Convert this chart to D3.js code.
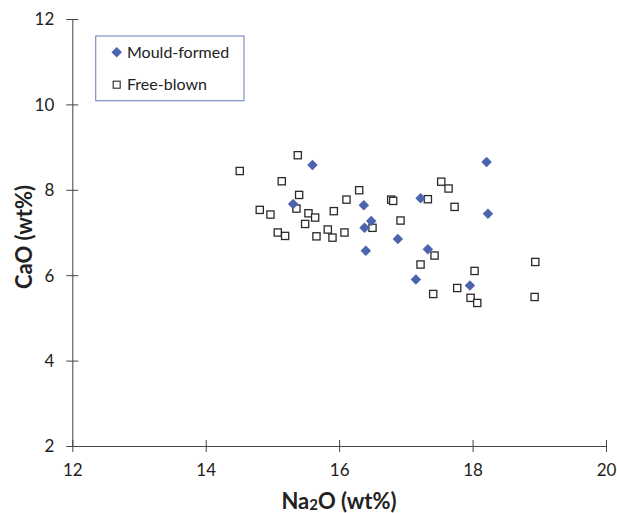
<!DOCTYPE html>
<html>
<head>
<meta charset="utf-8">
<script src="https://cdn.jsdelivr.net/npm/d3@7"></script>
<style>
	body { margin: 0; background: #fff; }
	svg text { font-family: Lato, "Open Sans", sans-serif; fill: #222; }
</style>
</head>
<body>
<div id="chart"></div>
<script>
// Data (Na2O, CaO in wt%)

var mouldNa = [15.60, 15.31, 16.37, 16.48, 16.38, 16.88, 16.40, 17.15, 17.22, 18.21, 18.23, 17.33, 17.96];
var mouldCa = [8.58, 7.67, 7.64, 7.27, 7.11, 6.85, 6.57, 5.90, 7.80, 8.65, 7.44, 6.61, 5.76];

var freeNa = [15.38, 14.51, 15.14, 15.40, 15.36, 14.81, 14.97, 15.54, 15.64, 15.49, 15.08, 15.19,
	15.66, 15.83, 15.90, 15.92, 16.11, 16.08, 16.30, 16.78, 16.81, 16.92, 16.50, 17.53,
	17.64, 17.33, 17.73, 17.43, 17.22, 18.03, 18.94, 17.41, 17.77, 17.97, 18.07, 18.93];
var freeCa = [8.81, 8.44, 8.20, 7.88, 7.56, 7.53, 7.42, 7.45, 7.35, 7.20, 7.00, 6.92,
	6.91, 7.07, 6.88, 7.50, 7.77, 7.00, 7.99, 7.77, 7.74, 7.28, 7.11, 8.19,
	8.03, 7.78, 7.60, 6.46, 6.25, 6.10, 6.31, 5.56, 5.70, 5.47, 5.35, 5.49];

var xTicks = [12, 14, 16, 18, 20];
var yTicks = [2, 4, 6, 8, 10, 12];
var seriesNames = ['Mould-formed', 'Free-blown'];

// Config

var width = 617, height = 513;
var plot = { left: 72.3, right: 606, top: 19, bottom: 446 };
var axisColor = '#444';
var blue = '#4c63ad';

var svg = d3.select('#chart').append('svg')
	.attr('width', width)
	.attr('height', height);

var x = d3.scaleLinear().domain([12, 20]).range([plot.left, plot.right]);
var y = d3.scaleLinear().domain([2, 12]).range([plot.bottom, plot.top]);

// Axes (cross ticks, like the spreadsheet)

var xAxis = svg.append('g')
	.attr('transform', `translate(0,${plot.bottom})`)
	.call(d3.axisBottom(x).tickValues(xTicks).tickSizeInner(6).tickSizeOuter(0).tickPadding(12));
xAxis.selectAll('.tick line').attr('y1', -6);

var yAxis = svg.append('g')
	.attr('transform', `translate(${plot.left},0)`)
	.call(d3.axisLeft(y).tickValues(yTicks).tickSizeInner(6).tickSizeOuter(0).tickPadding(12));
yAxis.selectAll('.tick line').attr('x1', 6);

[xAxis, yAxis].forEach(ax => {
	ax.select('.domain').attr('stroke', axisColor);
	ax.selectAll('.tick line').attr('stroke', axisColor);
	ax.selectAll('.tick text')
		.style('font-size', '17px')
		.style('font-family', 'Lato, sans-serif')
		.attr('fill', '#222');
});
yAxis.selectAll('.tick text').attr('dy', '0.35em');

// Axis titles

var xTitle = svg.append('text')
	.attr('x', 339)
	.attr('y', 509)
	.attr('text-anchor', 'middle')
	.style('font-size', '22px')
	.style('font-weight', 'bold');
xTitle.append('tspan').text('Na');
xTitle.append('tspan').text('2').style('font-size', '15px').attr('dy', 1);
xTitle.append('tspan').text('O (wt%)').attr('dy', -1);

svg.append('text')
	.attr('transform', 'translate(32,237) rotate(-90)')
	.attr('text-anchor', 'middle')
	.style('font-size', '22px')
	.style('font-weight', 'bold')
	.text('CaO (wt%)');

// Points

var diamond = d3.symbol().type(d3.symbolDiamond2).size(70);

svg.append('g').selectAll('rect')
	.data(d3.zip(freeNa, freeCa))
	.join('rect')
		.attr('x', d => x(d[0]) - 3.6)
		.attr('y', d => y(d[1]) - 3.6)
		.attr('width', 7.2)
		.attr('height', 7.2)
		.attr('fill', '#fff')
		.attr('stroke', '#2a2a2a')
		.attr('stroke-width', 1.3);

svg.append('g').selectAll('path')
	.data(d3.zip(mouldNa, mouldCa))
	.join('path')
		.attr('d', diamond)
		.attr('transform', d => `translate(${x(d[0])},${y(d[1])})`)
		.attr('fill', blue);

// Legend

var legend = svg.append('g');
legend.append('rect')
	.attr('x', 95.7).attr('y', 36)
	.attr('width', 148.3).attr('height', 64.7)
	.attr('fill', '#fff')
	.attr('stroke', '#7f90c8')
	.attr('stroke-width', 1.2);
legend.append('path')
	.attr('d', d3.symbol().type(d3.symbolDiamond2).size(70))
	.attr('transform', 'translate(116.7,52.3)')
	.attr('fill', blue);
legend.append('rect')
	.attr('x', 113.2).attr('y', 81.2)
	.attr('width', 7).attr('height', 7)
	.attr('fill', '#fff')
	.attr('stroke', '#2a2a2a')
	.attr('stroke-width', 1.1);
legend.selectAll('text.lab')
	.data(seriesNames)
	.join('text')
		.attr('class', 'lab')
		.attr('x', 127)
		.attr('y', (d, i) => 57.8 + i * 32.4)
		.style('font-size', '16px')
		.text(d => d);
</script>
</body>
</html>
